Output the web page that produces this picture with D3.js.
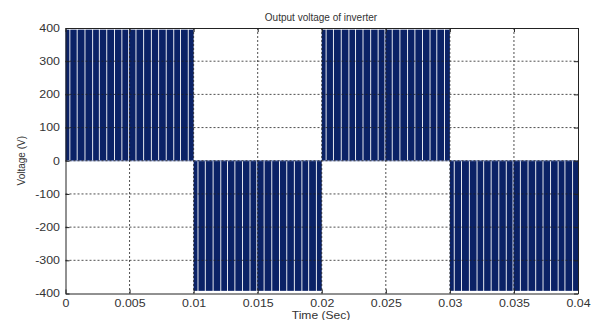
<!DOCTYPE html>
<html>
<head>
<meta charset="utf-8">
<script src="https://cdn.jsdelivr.net/npm/d3@7"></script>
<style>
  body { margin: 0; background: #fff; }
  text { font-family: "Liberation Sans", Arial, sans-serif; fill: #333; }
</style>
</head>
<body>
<svg id="chart" width="599" height="320"></svg>
<script>
// half cycles of the inverter output (start, end in s, pulse level in V)
const halfCycles = [
  { start: 0.00, end: 0.01, level: 395 },
  { start: 0.01, end: 0.02, level: -392 },
  { start: 0.02, end: 0.03, level: 395 },
  { start: 0.03, end: 0.04, level: -392 },
];
// gaps between switching pulses, seconds from the start of each half cycle
const gapTimes = [0.00034, 0.00091, 0.00152, 0.00212, 0.00264, 0.00322, 0.00382, 0.0044,
  0.00493, 0.0055, 0.0061, 0.0067, 0.00727, 0.00786, 0.00845, 0.00898, 0.00958];
const gapWidth = 0.00007;

const xTicks = [0, 0.005, 0.01, 0.015, 0.02, 0.025, 0.03, 0.035, 0.04];
const xTickLabels = ['0', '0.005', '0.01', '0.015', '0.02', '0.025', '0.03', '0.035', '0.04'];
const yTicks = [-400, -300, -200, -100, 0, 100, 200, 300, 400];

const plotLeft = 65.5, plotRight = 578, plotTop = 28, plotBottom = 293.5;

const svg = d3.select('#chart');

const x = d3.scaleLinear().domain([0, 0.04]).range([plotLeft, plotRight]);
const y = d3.scaleLinear().domain([-400, 400]).range([plotBottom, plotTop]);

// build pulses from half cycles and gap positions
const pulses = [];
halfCycles.forEach((h) => {
  const edges = [0].concat(gapTimes, [h.end - h.start]);
  for (let i = 0; i < edges.length - 1; i++) {
    const a = h.start + edges[i] + (i > 0 ? gapWidth / 2 : 0);
    const b = h.start + edges[i + 1] - (i < edges.length - 2 ? gapWidth / 2 : 0);
    pulses.push({ a, b, level: h.level });
  }
});

svg
  .append('g')
  .selectAll('rect')
  .data(pulses)
  .enter()
  .append('rect')
  .attr('x', (d) => x(d.a))
  .attr('width', (d) => x(d.b) - x(d.a))
  .attr('y', (d) => y(Math.max(0, d.level)))
  .attr('height', (d) => Math.abs(y(d.level) - y(0)))
  .attr('fill', '#0b2266');

// zero line of the waveform
svg
  .append('line')
  .attr('x1', x(0))
  .attr('x2', x(0.04))
  .attr('y1', y(0))
  .attr('y2', y(0))
  .attr('stroke', '#7d8fc4')
  .attr('stroke-width', 1);

// grid
const grid = svg.append('g').attr('stroke', '#222').attr('stroke-width', 0.8).attr('stroke-dasharray', '2,2');
grid
  .selectAll('.gx')
  .data(xTicks.slice(1, -1))
  .enter()
  .append('line')
  .attr('x1', (d) => x(d))
  .attr('x2', (d) => x(d))
  .attr('y1', plotTop)
  .attr('y2', plotBottom);
grid
  .selectAll('.gy')
  .data(yTicks.slice(1, -1))
  .enter()
  .append('line')
  .attr('x1', plotLeft)
  .attr('x2', plotRight)
  .attr('y1', (d) => y(d))
  .attr('y2', (d) => y(d));

// axes
const xAxis = d3.axisBottom(x).tickValues(xTicks).tickSizeInner(-4).tickSizeOuter(0).tickPadding(6)
  .tickFormat((d, i) => xTickLabels[i]);
const yAxis = d3.axisLeft(y).tickValues(yTicks).tickSizeInner(-4).tickSizeOuter(0).tickPadding(5)
  .tickFormat((d) => String(d));

svg.append('g').attr('class', 'xaxis').attr('transform', `translate(0,${plotBottom})`).call(xAxis);
svg.append('g').attr('class', 'yaxis').attr('transform', `translate(${plotLeft},0)`).call(yAxis);
svg.append('g').attr('transform', `translate(0,${plotTop})`)
  .call(d3.axisTop(x).tickValues(xTicks).tickSizeInner(-4).tickSizeOuter(0).tickFormat(''));
svg.append('g').attr('transform', `translate(${plotRight},0)`)
  .call(d3.axisRight(y).tickValues(yTicks).tickSizeInner(-4).tickSizeOuter(0).tickFormat(''));

svg.selectAll('.domain').attr('stroke', '#222');
svg.selectAll('.tick line').attr('stroke', '#222');
// the original lettering is a bit wider than it is tall
svg.selectAll('.xaxis .tick text').style('font-size', '10.5px').style('fill', '#333')
  .attr('transform', 'scale(1.18,1)');
svg.selectAll('.yaxis .tick text').style('font-size', '10.5px').style('fill', '#333')
  .attr('x', -5 / 1.18 - 0.5).attr('transform', 'scale(1.18,1)');

// titles
svg.append('text')
  .attr('x', 321)
  .attr('y', 21)
  .attr('text-anchor', 'middle')
  .style('font-size', '10px')
  .text('Output voltage of inverter');

svg.append('text')
  .attr('transform', 'translate(321,319) scale(1.15,1)')
  .attr('text-anchor', 'middle')
  .style('font-size', '10.5px')
  .text('Time (Sec)');

svg.append('text')
  .attr('transform', `translate(25,${(plotTop + plotBottom) / 2}) rotate(-90)`)
  .attr('text-anchor', 'middle')
  .style('font-size', '10px')
  .text('Voltage (V)');
</script>
</body>
</html>
